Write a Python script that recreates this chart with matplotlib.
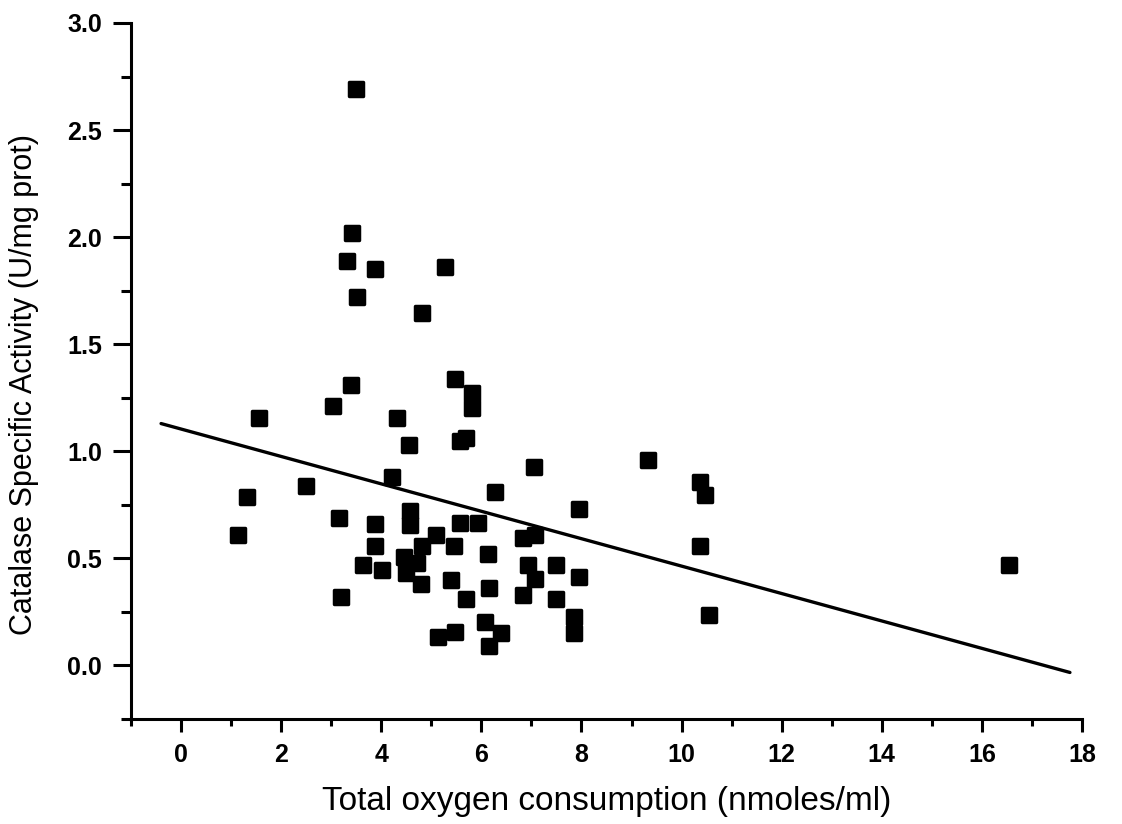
import matplotlib
matplotlib.use("Agg")
import matplotlib.pyplot as plt
from matplotlib.markers import MarkerStyle
import numpy as np

plt.rcParams['font.family'] = ['Liberation Sans', 'DejaVu Sans']

# Total oxygen consumption (nmoles/ml)
oxygen = [3.49, 3.41, 3.31, 3.88, 5.27, 3.52, 4.81, 3.39, 5.47, 5.82,
          5.82, 3.03, 1.56, 4.32, 4.55, 5.58, 5.70, 7.05, 9.33, 4.22,
          2.50, 1.31, 1.13, 6.28, 7.96, 3.15, 3.88, 4.57, 4.57, 3.88,
          3.64, 4.02, 4.46, 4.71, 4.50, 4.79, 4.81, 5.09, 5.45, 5.58,
          5.94, 6.83, 7.07, 6.14, 6.93, 7.49, 7.07, 7.96, 5.39, 6.16,
          5.70, 6.83, 7.49, 7.86, 7.86, 6.08, 6.40, 6.16, 5.13, 5.47,
          3.19, 10.36, 10.46, 10.36, 10.55, 16.55]
# Catalase specific activity (U/mg prot)
catalase = [2.69, 2.02, 1.89, 1.85, 1.86, 1.72, 1.645, 1.31, 1.34, 1.27,
            1.20, 1.21, 1.155, 1.155, 1.03, 1.05, 1.06, 0.925, 0.96, 0.88,
            0.84, 0.785, 0.61, 0.81, 0.73, 0.69, 0.66, 0.72, 0.655, 0.56,
            0.47, 0.445, 0.505, 0.48, 0.43, 0.38, 0.56, 0.61, 0.56, 0.665,
            0.665, 0.595, 0.61, 0.52, 0.47, 0.47, 0.405, 0.415, 0.40, 0.36,
            0.31, 0.33, 0.31, 0.225, 0.15, 0.205, 0.15, 0.09, 0.135, 0.155,
            0.32, 0.855, 0.795, 0.556, 0.238, 0.47]

# Linear regression line
fit_intercept = 1.104
fit_slope = -0.064
fit_x_range = [-0.4, 17.76]

x_ticks = [0, 2, 4, 6, 8, 10, 12, 14, 16, 18]
y_ticks = [0.0, 0.5, 1.0, 1.5, 2.0, 2.5, 3.0]

fig = plt.figure(figsize=(11.22, 8.24), dpi=100)
ax = fig.add_axes([0.1168, 0.1274, 0.8475, 0.8447])

marker = MarkerStyle('s', joinstyle='round')
ax.plot(oxygen, catalase, linestyle='none', marker=marker, markersize=10.5,
        markerfacecolor='black', markeredgecolor='black', markeredgewidth=2.5)

fx = np.array(fit_x_range)
ax.plot(fx, fit_intercept + fit_slope * fx, color='black', linewidth=2.4,
        solid_capstyle='round')

ax.set_xlim(-1, 18)
ax.set_ylim(-0.25, 3.0)
ax.set_xticks(x_ticks)
ax.set_xticks(np.arange(-1, 18.5, 1), minor=True)
ax.set_yticks(y_ticks)
ax.set_yticks(np.arange(-0.25, 3.01, 0.25), minor=True)
ax.set_xticklabels([str(v) for v in x_ticks], fontweight='bold', fontsize=18)
ax.set_yticklabels([f"{v:.1f}" for v in y_ticks], fontweight='bold', fontsize=18)

for s in ['top', 'right']:
    ax.spines[s].set_visible(False)
for s in ['left', 'bottom']:
    ax.spines[s].set_linewidth(2.2)

ax.tick_params(axis='x', which='major', direction='out', length=9, width=2.2, pad=8)
ax.tick_params(axis='x', which='minor', direction='out', length=5, width=2.2)
ax.tick_params(axis='y', which='major', direction='out', length=13, width=2.2, pad=8)
ax.tick_params(axis='y', which='minor', direction='out', length=7, width=2.2)

ax.set_xlabel('Total oxygen consumption (nmoles/ml)', fontsize=24, labelpad=14)
ax.set_ylabel('Catalase Specific Activity (U/mg prot)', fontsize=22)
ax.yaxis.set_label_coords(-0.097, 0.48)

fig.savefig('out.png', dpi=100)
